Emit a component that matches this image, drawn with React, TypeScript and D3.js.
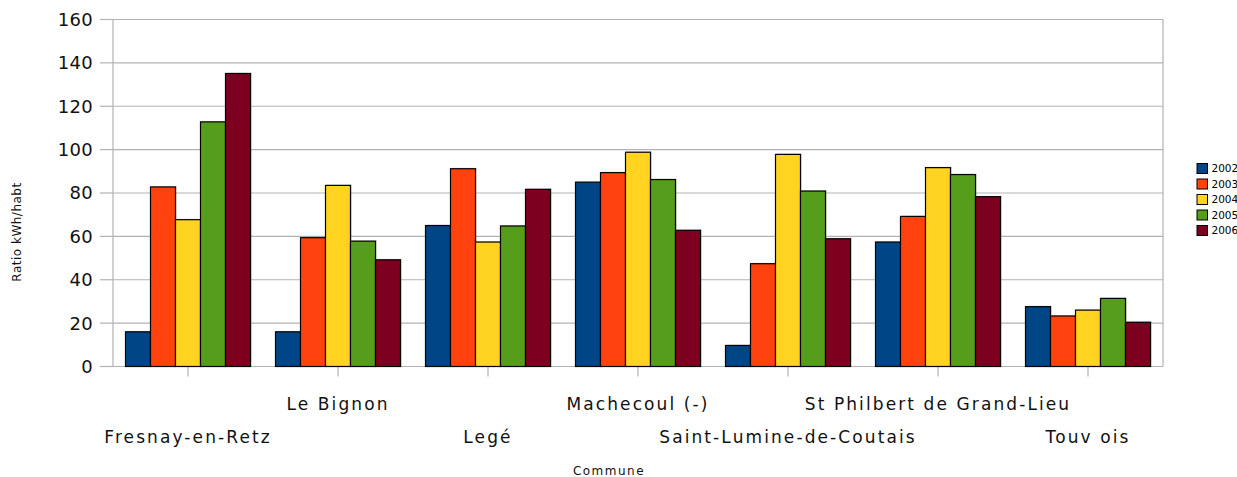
import React from "react";
import * as d3 from "d3";

const communes = [
  "Fresnay-en-Retz",
  "Le Bignon",
  "Legé",
  "Machecoul (-)",
  "Saint-Lumine-de-Coutais",
  "St Philbert de Grand-Lieu",
  "Touv ois",
];
const years = ["2002", "2003", "2004", "2005", "2006"];
const v2002 = [16, 16, 65, 85, 9.7, 57.4, 27.6];
const v2003 = [82.8, 59.4, 91.2, 89.4, 47.4, 69.2, 23.3];
const v2004 = [67.7, 83.5, 57.4, 98.8, 97.8, 91.7, 26];
const v2005 = [112.8, 57.8, 64.8, 86.2, 80.9, 88.5, 31.4];
const v2006 = [135.1, 49.2, 81.7, 62.8, 58.9, 78.3, 20.4];
const series = [v2002, v2003, v2004, v2005, v2006];
const colors = ["#004586", "#ff420e", "#ffd320", "#579d1c", "#7e0021"];
const yTicks = [0, 20, 40, 60, 80, 100, 120, 140, 160];

const W = 1237;
const H = 477;
const left = 113;
const right = 1163;
const top = 19.5;
const bottom = 366.5;
const font = "'DejaVu Sans', sans-serif";

export default function App() {
  const x = d3.scaleBand<string>().domain(communes).range([left, right]).paddingInner(0).paddingOuter(0);
  const y = d3.scaleLinear().domain([0, 160]).range([bottom, top]);
  const groupW = x.bandwidth() * (125 / 150);
  const xs = d3.scaleBand<string>().domain(years).range([0, groupW]).padding(0);

  return (
    <svg width={W} height={H} style={{ position: "absolute", left: 0, top: 0, background: "#fff" }}>
      <rect x={0} y={0} width={W} height={H} fill="#fff" />
      {/* gridlines */}
      {yTicks.map((t) => (
        <g key={t}>
          <line x1={left} x2={right} y1={y(t)} y2={y(t)} stroke="#b3b3b3" strokeWidth={1.2} />
          <line x1={left - 13} x2={left} y1={y(t)} y2={y(t)} stroke="#b3b3b3" strokeWidth={1.2} />
          <text x={93} y={y(t)} dy="0.36em" textAnchor="end" fontFamily={font} fontSize={18} letterSpacing={0.3} fill="#111">
            {t}
          </text>
        </g>
      ))}
      <line x1={left} x2={left} y1={top} y2={bottom} stroke="#b3b3b3" strokeWidth={1.2} />
      <line x1={right} x2={right} y1={top} y2={bottom} stroke="#b3b3b3" strokeWidth={1.2} />
      {/* category ticks */}
      {communes.map((c) => (
        <line key={c} x1={x(c)! + x.bandwidth() / 2} x2={x(c)! + x.bandwidth() / 2} y1={bottom} y2={bottom + 10} stroke="#b3b3b3" strokeWidth={1.2} />
      ))}
      {/* bars */}
      {communes.map((c, i) => {
        const gx = x(c)! + (x.bandwidth() - groupW) / 2;
        return (
          <g key={c}>
            {years.map((yr, j) => {
              const v = series[j][i];
              const bx = gx + xs(yr)!;
              return (
                <g key={yr}>
                  <rect x={bx + 1.5} y={y(v) - 1} width={xs.bandwidth()} height={bottom - y(v) + 1} fill="#000" opacity={0.12} />
                  <rect x={bx} y={y(v)} width={xs.bandwidth()} height={bottom - y(v)} fill={colors[j]} stroke="#000" strokeWidth={1.2} />
                </g>
              );
            })}
          </g>
        );
      })}
      {/* category labels */}
      {communes.map((c, i) => (
        <text key={c} x={x(c)! + x.bandwidth() / 2} y={i % 2 === 1 ? 410 : 443} textAnchor="middle" fontFamily={font} fontSize={17} letterSpacing={2.1} fill="#111">
          {c}
        </text>
      ))}
      {/* axis titles */}
      <text x={609} y={475} textAnchor="middle" fontFamily={font} fontSize={12} letterSpacing={1.5} fill="#111">
        Commune
      </text>
      <text transform={`translate(21,232) rotate(-90)`} textAnchor="middle" fontFamily={font} fontSize={12} letterSpacing={0.5} fill="#111">
        Ratio kWh/habt
      </text>
      {/* legend */}
      {years.map((yr, j) => (
        <g key={yr} transform={`translate(1197,${163.5 + j * 15.5})`}>
          <rect x={0} y={0} width={10.5} height={10} fill={colors[j]} stroke="#000" strokeWidth={1} />
          <text x={14.5} y={5} dy="0.36em" fontFamily={font} fontSize={10.5} fill="#000">
            {yr}
          </text>
        </g>
      ))}
    </svg>
  );
}
